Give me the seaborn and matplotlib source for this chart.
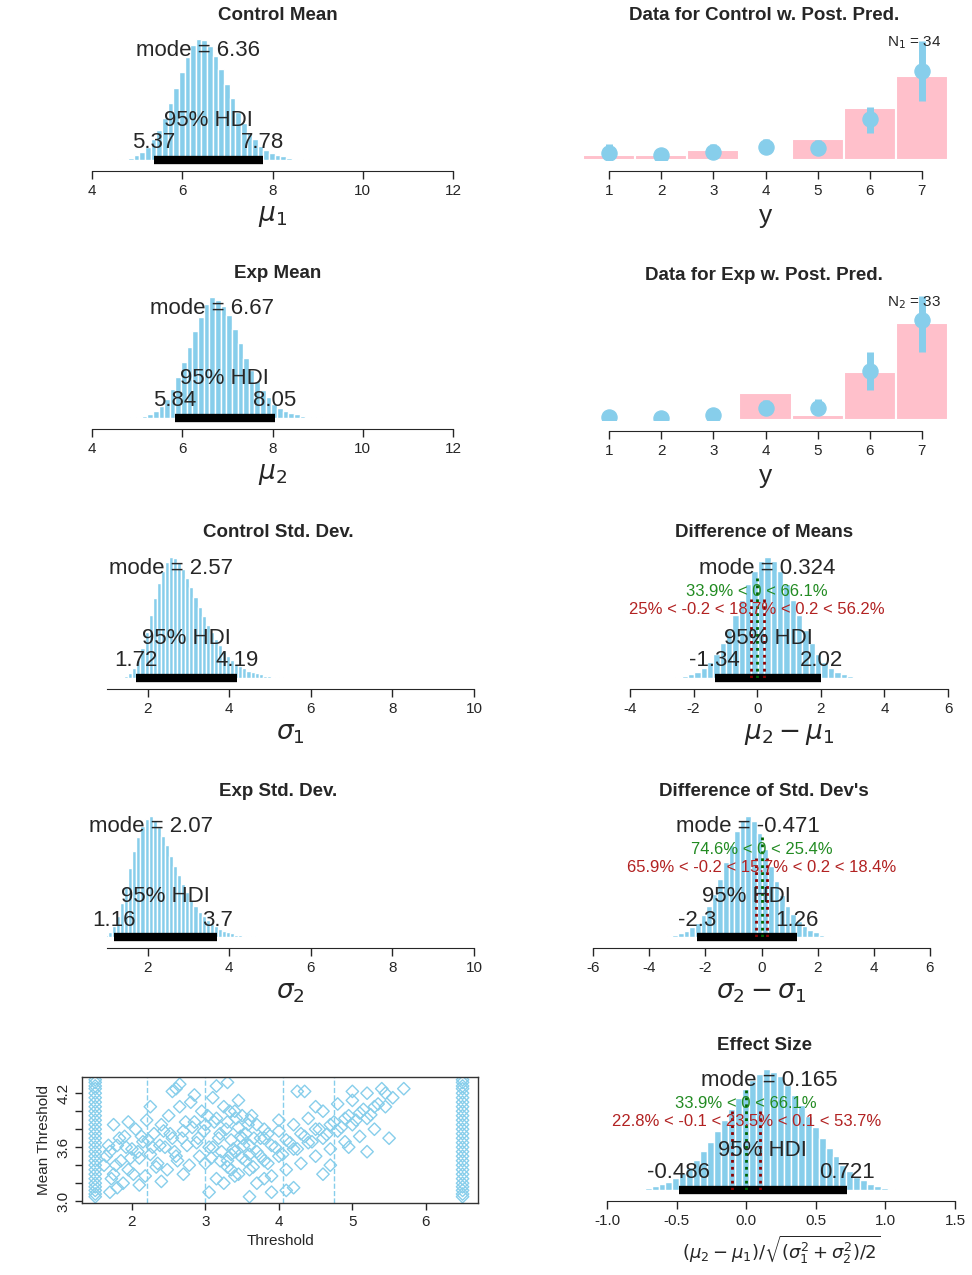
import matplotlib
matplotlib.use("Agg")
import matplotlib.pyplot as plt
import matplotlib.transforms as mtrans
import seaborn as sns
import numpy as np

sns.set_style("white")
plt.rcParams["font.family"] = ["Liberation Sans", "DejaVu Sans"]
plt.rcParams["mathtext.fontset"] = "dejavusans"

SKY = "#87CEEB"
W, H = 972, 1275

# ---------------- data ----------------
# posterior histograms: first bin edge, bin width, bar heights
cm_start, cm_bw = 4.55, 0.125
cm_h = [1, 1, 2, 4, 7, 11, 17, 25, 35, 47, 60, 73, 85, 95, 100, 99, 94, 86, 75, 63, 51, 40,
        31, 23, 17, 12, 8, 6, 4, 3, 2, 1, 1, 1]
em_start, em_bw = 4.85, 0.125
em_h = [1, 1, 2, 3, 6, 10, 16, 24, 34, 46, 59, 72, 84, 94, 100, 98, 93, 85, 74, 62, 50, 40,
        31, 23, 17, 12, 8, 6, 4, 3, 2, 1, 1, 1]
cs_start, cs_bw = 1.32, 0.1
cs_h = [1, 2, 4, 8, 15, 25, 38, 52, 66, 79, 89, 96, 100, 99, 96, 90, 83, 75, 67, 59, 51, 44,
        38, 32, 27, 22, 18, 15, 12, 10, 8, 6, 5, 4, 3, 2, 2, 1, 1, 1]
es_start, es_bw = 0.82, 0.1
es_h = [1, 2, 4, 9, 17, 28, 42, 57, 71, 83, 92, 98, 100, 97, 91, 84, 76, 67, 59, 51, 44, 37,
        31, 26, 21, 17, 14, 11, 9, 7, 5, 4, 3, 2, 2, 1, 1, 1]
dm_start, dm_bw = -2.58, 0.2
dm_h = [1, 2, 3, 5, 8, 13, 20, 29, 40, 52, 65, 78, 89, 97, 100, 97, 89, 78, 65, 52, 40, 29,
        20, 13, 8, 5, 3, 2, 1]
ds_start, ds_bw = -3.37, 0.2
ds_h = [1, 2, 3, 5, 8, 12, 18, 26, 36, 48, 62, 76, 88, 97, 100, 96, 86, 73, 59, 46, 35, 26,
        19, 13, 9, 6, 4, 2, 1]
ef_start, ef_bw = -0.78, 0.05
ef_h = [1, 2, 3, 5, 7, 10, 14, 19, 25, 32, 40, 49, 58, 67, 76, 84, 91, 96, 100, 98, 94, 87,
        79, 70, 61, 52, 43, 35, 28, 21, 16, 11, 8, 5, 3, 2, 1]

# posterior predictive panels
y_levels = [1, 2, 3, 4, 5, 6, 7]
ctrl_counts = [1, 1, 2, 0, 4, 10, 16]
exp_counts = [0, 0, 0, 5, 1, 9, 18]
ctrl_pp_mid = [0.04, 0.03, 0.045, 0.075, 0.065, 0.23, 0.50]
ctrl_pp_lo = [0.01, 0.01, 0.02, 0.04, 0.03, 0.15, 0.33]
ctrl_pp_hi = [0.09, 0.05, 0.09, 0.12, 0.11, 0.30, 0.67]
exp_pp_mid = [0.017, 0.012, 0.029, 0.07, 0.07, 0.276, 0.56]
exp_pp_lo = [0.0, 0.0, 0.01, 0.03, 0.03, 0.17, 0.38]
exp_pp_hi = [0.04, 0.03, 0.05, 0.11, 0.12, 0.38, 0.70]

# threshold scatter
thr1_x = [1.62, 1.70, 1.75, 1.80, 1.85, 1.90, 1.95, 2.00, 2.05, 2.10, 2.15, 2.20, 2.25, 2.30,
          2.35, 2.40, 2.45, 2.50, 2.55, 2.60, 2.65, 2.70, 2.75, 2.80, 2.85, 2.90, 2.95, 3.00,
          3.05, 3.10, 3.15, 3.20, 3.25, 3.30, 3.35, 3.40, 3.45, 3.50, 3.55, 3.60, 3.70, 3.80,
          1.72, 1.88, 2.02, 2.18, 2.33, 2.48, 2.62, 2.78, 2.92, 3.08, 3.22, 3.38, 3.52, 3.66,
          1.95, 2.25, 2.55, 2.85, 3.15, 3.45, 1.80, 2.10, 2.40, 2.70, 3.00, 3.30, 3.60,
          1.65, 1.78, 1.92, 2.08, 2.22, 2.38, 2.52, 2.68, 2.82, 2.98, 3.12, 3.28, 3.42, 3.58,
          1.68, 1.83, 1.98, 2.13, 2.28, 2.43, 2.58, 2.73, 2.88, 3.03, 3.18, 3.33, 3.48, 3.63,
          3.75, 3.85, 2.60, 2.65, 3.30, 1.75, 1.70]
thr1_y = [3.40, 3.55, 3.30, 3.62, 3.45, 3.72, 3.35, 3.58, 3.80, 3.48, 3.66, 3.90, 3.52, 3.75,
          3.42, 3.85, 3.60, 3.95, 3.70, 3.50, 4.05, 3.78, 3.62, 4.10, 3.88, 3.70, 4.00, 3.85,
          3.60, 4.15, 3.92, 3.75, 4.05, 3.88, 3.68, 4.00, 3.82, 3.95, 3.75, 3.90, 3.85, 3.80,
          3.25, 3.20, 3.30, 3.28, 3.38, 3.35, 3.45, 3.40, 3.50, 3.48, 3.55, 3.58, 3.62, 3.70,
          3.88, 4.05, 4.22, 4.18, 4.28, 4.12, 3.15, 3.18, 3.22, 3.30, 3.42, 3.45, 3.52,
          3.50, 3.40, 3.60, 3.55, 3.68, 3.62, 3.75, 3.70, 3.82, 3.78, 3.88, 3.80, 3.92, 3.85,
          3.62, 3.70, 3.48, 3.72, 3.60, 3.78, 3.55, 3.88, 3.65, 3.95, 3.70, 4.00, 3.72, 3.95,
          3.70, 3.75, 4.25, 4.30, 4.32, 3.85, 3.10]
thr2_x = [3.05, 3.15, 3.25, 3.35, 3.45, 3.55, 3.65, 3.75, 3.85, 3.95, 4.05, 4.15, 4.25, 4.35,
          4.45, 4.55, 4.65, 4.75, 4.85, 4.95, 5.05, 5.15, 5.25, 5.35, 5.45, 5.55, 3.20, 3.40,
          3.60, 3.80, 4.00, 4.20, 4.40, 4.60, 4.80, 5.00, 5.20, 5.40, 3.70, 3.90, 4.10, 4.30,
          4.50, 4.70, 4.90, 5.10, 5.30, 3.50, 4.00, 4.50, 5.00, 3.90, 4.20, 4.60, 5.20, 5.70,
          3.10, 3.60, 4.10, 4.70, 5.50,
          3.30, 3.50, 3.70, 3.90, 4.10, 4.30, 4.50, 4.70, 4.90, 5.10, 5.30, 3.40, 3.60, 3.80,
          4.00, 4.20, 4.40, 4.60, 4.80, 5.00, 5.20, 4.25, 4.35, 5.45, 3.35, 3.80, 4.95]
thr2_y = [3.10, 3.25, 3.20, 3.35, 3.30, 3.45, 3.38, 3.50, 3.42, 3.60, 3.52, 3.65, 3.58, 3.72,
          3.66, 3.80, 3.74, 3.88, 3.82, 3.95, 3.90, 4.02, 3.96, 4.08, 4.05, 4.15, 3.45, 3.55,
          3.62, 3.70, 3.78, 3.85, 3.92, 4.00, 4.08, 4.12, 4.20, 4.25, 3.20, 3.28, 3.35, 3.42,
          3.50, 3.58, 3.66, 3.72, 3.80, 3.70, 3.90, 4.05, 4.22, 3.10, 3.15, 3.30, 3.55, 4.25,
          3.60, 3.05, 3.12, 3.40, 3.70,
          3.38, 3.48, 3.55, 3.62, 3.68, 3.75, 3.80, 3.85, 3.92, 3.98, 4.05, 3.28, 3.35, 3.45,
          3.50, 3.58, 3.65, 3.70, 3.78, 3.85, 3.92, 4.22, 4.22, 4.20, 3.52, 3.25, 3.60]
col_y = [3.05, 3.08, 3.12, 3.16, 3.20, 3.25, 3.30, 3.35, 3.40, 3.45, 3.50, 3.55, 3.60, 3.65,
         3.70, 3.75, 3.80, 3.85, 3.90, 3.95, 4.00, 4.05, 4.10, 4.15, 4.20, 4.25, 4.28, 4.32, 4.35]
thr_lines = [2.2, 3.0, 4.05, 4.75]

fig = plt.figure(figsize=(W / 100, H / 100), dpi=100)


def add_ax(x0, x1, ytop, ybot):
    return fig.add_axes([x0 / W, 1 - ybot / H, (x1 - x0) / W, (ybot - ytop) / H])


def post_panel(x0, x1, axis_y, xlim, ticks, start, bw, heights, title, xlabel,
               mode, lo, hi, fmt, title_x, comp=None, rope=None, comp_text=None,
               rope_text=None):
    base = axis_y - 8
    ax = add_ax(x0, x1, base - 128, base)
    edges = [start + bw * i for i in range(len(heights) + 1)]
    centers = [(edges[i] + edges[i + 1]) / 2 for i in range(len(heights))]
    sns.histplot(x=centers, weights=heights, bins=edges, ax=ax, color=SKY, alpha=1,
                 edgecolor="white", linewidth=1.0)
    ax.set_xlim(*xlim)
    ax.set_ylim(0, max(heights) * 1.06)
    ax.plot([lo, hi], [0, 0], color="black", lw=6, solid_capstyle="butt", clip_on=False)
    for s in ["top", "right", "left"]:
        ax.spines[s].set_visible(False)
    ax.spines["bottom"].set_position(("outward", 8))
    ax.spines["bottom"].set_bounds(xlim[0], xlim[1])
    ax.set_yticks([])
    ax.set_ylabel("")
    ax.set_xticks(ticks)
    ax.set_xticklabels([f"{t:g}" for t in ticks], fontsize=11)
    ax.tick_params(axis="x", direction="out", length=6, width=1, bottom=True)
    ax.set_xlabel(xlabel, fontsize=19, labelpad=4)
    tr = mtrans.blended_transform_factory(ax.transData, ax.transAxes)
    hgt = 128
    ax.text(mode, 110 / hgt, f"mode = {mode:g}", transform=tr, ha="center", va="center",
            fontsize=16)
    ax.text((lo + hi) / 2, 40 / hgt, "95% HDI", transform=tr, ha="center", va="center",
            fontsize=16)
    ax.text(lo, 17 / hgt, fmt(lo), transform=tr, ha="center", va="center", fontsize=16)
    ax.text(hi, 17 / hgt, fmt(hi), transform=tr, ha="center", va="center", fontsize=16)
    if comp is not None:
        ax.axvline(comp, ymax=0.78, color="darkgreen", ls=(0, (1, 1.5)), lw=2)
        ax.text(comp, 87 / hgt, comp_text, transform=tr,
                ha="center", va="center", fontsize=12, color="#228B22")
    if rope is not None:
        for r in rope:
            ax.axvline(r, ymax=0.62, color="darkred", ls=(0, (1, 1.5)), lw=2)
        ax.text(0, 69 / hgt, rope_text, transform=tr, ha="center", va="center",
                fontsize=12, color="#B22222")
    fig.text(title_x / W, 1 - (axis_y - 153) / H, title, ha="center", va="center",
             fontsize=13.5, fontweight="bold")
    return ax


post_panel(92, 453, 168, (4, 12), [4, 6, 8, 10, 12], cm_start, cm_bw, cm_h,
           "Control Mean", r"$\mu_1$", 6.36, 5.37, 7.78, lambda v: f"{v:g}", 278)
post_panel(92, 453, 426, (4, 12), [4, 6, 8, 10, 12], em_start, em_bw, em_h,
           "Exp Mean", r"$\mu_2$", 6.67, 5.84, 8.05, lambda v: f"{v:g}", 278)
post_panel(107, 474, 686, (1, 10), [2, 4, 6, 8, 10], cs_start, cs_bw, cs_h,
           "Control Std. Dev.", r"$\sigma_1$", 2.57, 1.72, 4.19, lambda v: f"{v:g}", 278)
post_panel(107, 474, 945, (1, 10), [2, 4, 6, 8, 10], es_start, es_bw, es_h,
           "Exp Std. Dev.", r"$\sigma_2$", 2.07, 1.16, 3.7, lambda v: f"{v:g}", 278)
post_panel(630, 948, 686, (-4, 6), [-4, -2, 0, 2, 4, 6], dm_start, dm_bw, dm_h,
           "Difference of Means", r"$\mu_2 - \mu_1$", 0.324, -1.34, 2.02,
           lambda v: f"{v:g}", 764, comp=0, rope=(-0.2, 0.2),
           comp_text="33.9% < 0 < 66.1%",
           rope_text="25% < -0.2 < 18.7% < 0.2 < 56.2%")
post_panel(593, 930, 945, (-6, 6), [-6, -4, -2, 0, 2, 4, 6], ds_start, ds_bw, ds_h,
           "Difference of Std. Dev's", r"$\sigma_2 - \sigma_1$", -0.471, -2.3, 1.26,
           lambda v: f"{v:g}", 764, comp=0, rope=(-0.2, 0.2),
           comp_text="74.6% < 0 < 25.4%",
           rope_text="65.9% < -0.2 < 15.7% < 0.2 < 18.4%")
ef_ax = post_panel(607, 955, 1198, (-1.0, 1.5), [-1.0, -0.5, 0.0, 0.5, 1.0, 1.5], ef_start,
                   ef_bw, ef_h, "Effect Size",
                   r"$(\mu_2-\mu_1)/\sqrt{(\sigma_1^2+\sigma_2^2)/2}$", 0.165, -0.486, 0.721,
                   lambda v: f"{v:g}", 764, comp=0, rope=(-0.1, 0.1),
                   comp_text="33.9% < 0 < 66.1%",
                   rope_text="22.8% < -0.1 < 23.5% < 0.1 < 53.7%")
ef_ax.set_xticklabels(["-1.0", "-0.5", "0.0", "0.5", "1.0", "1.5"], fontsize=11)
ef_ax.xaxis.label.set_size(13)


def pp_panel(axis_y, counts, mid, lo, hi, title, ntext):
    base = axis_y - 8
    ax = add_ax(583, 948, base - 128, base)
    props = [c / sum(counts) for c in counts]
    ax.bar(y_levels, props, width=1.0, color="pink", edgecolor="white", linewidth=1.5)
    ax.vlines(y_levels, lo, hi, color=SKY, lw=5)
    sns.scatterplot(x=y_levels, y=mid, ax=ax, color=SKY, s=120, edgecolor=SKY)
    ax.set_xlim(0.5, 7.5)
    ax.set_ylim(0, 0.72)
    for s in ["top", "right", "left"]:
        ax.spines[s].set_visible(False)
    ax.spines["bottom"].set_position(("outward", 8))
    ax.spines["bottom"].set_bounds(1, 7)
    ax.set_yticks([])
    ax.set_ylabel("")
    ax.set_xticks(y_levels)
    ax.set_xticklabels([str(v) for v in y_levels], fontsize=11)
    ax.tick_params(axis="x", direction="out", length=6, width=1, bottom=True)
    ax.set_xlabel("y", fontsize=19, labelpad=4)
    ax.text(6.85, 0.66, ntext, ha="center", va="center", fontsize=11)
    fig.text(764 / W, 1 - (axis_y - 153) / H, title, ha="center", va="center",
             fontsize=13.5, fontweight="bold")


pp_panel(168, ctrl_counts, ctrl_pp_mid, ctrl_pp_lo, ctrl_pp_hi,
         "Data for Control w. Post. Pred.", r"N$_1$ = 34")
pp_panel(428, exp_counts, exp_pp_mid, exp_pp_lo, exp_pp_hi,
         "Data for Exp w. Post. Pred.", r"N$_2$ = 33")

# threshold scatter
ax = add_ax(82, 478, 1077, 1203)
kw = dict(marker="D", s=40, facecolor="none", edgecolor=SKY, linewidth=1.0, ax=ax)
sns.scatterplot(x=thr1_x, y=thr1_y, **kw)
sns.scatterplot(x=thr2_x, y=thr2_y, **kw)
sns.scatterplot(x=[1.5] * len(col_y), y=col_y, **kw)
sns.scatterplot(x=[6.5] * len(col_y), y=col_y, **kw)
for t in thr_lines:
    ax.axvline(t, color=SKY, ls="--", lw=1)
ax.set_xlim(1.32, 6.71)
ax.set_ylim(2.98, 4.38)
ax.set_xticks([2, 3, 4, 5, 6])
ax.set_yticks([3.0, 3.2, 3.4, 3.6, 3.8, 4.0, 4.2])
ax.set_yticklabels(["3.0", "", "", "3.6", "", "", "4.2"], rotation=90, va="center",
                   fontsize=11)
ax.tick_params(axis="both", direction="out", length=5, width=1, left=True, bottom=True,
               labelsize=11)
for s in ax.spines.values():
    s.set_color("#333333")
    s.set_linewidth(1)
ax.set_xlabel("Threshold", fontsize=11)
ax.set_ylabel("Mean Threshold", fontsize=11)

fig.savefig("out.png", dpi=100)
